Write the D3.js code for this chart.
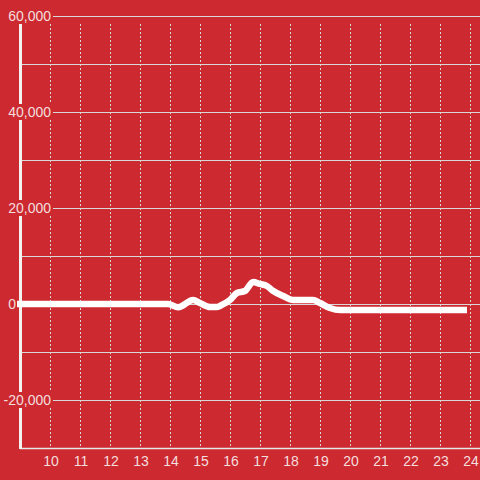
<!DOCTYPE html>
<html><head><meta charset="utf-8">
<script src="https://cdn.jsdelivr.net/npm/d3@7"></script>
<style>html,body{margin:0;padding:0;background:#cc2a30;}svg{display:block;}</style>
</head><body>
<svg id="chart" width="480" height="480"></svg>
<script>
const hours = [8.9, 13.93, 14.27, 14.77, 15.0, 15.33, 15.57, 15.73, 16.0, 16.23, 16.5, 16.77, 17.0, 17.23, 17.43, 17.77, 18.1, 18.77, 19.0, 19.33, 19.67, 23.9];
const values = [0, 0, -700, 830, 200, -625, -625, -200, 830, 2300, 2700, 4580, 4170, 3750, 2770, 1670, 830, 830, 200, -830, -1250, -1250];
const xTicks = [10, 11, 12, 13, 14, 15, 16, 17, 18, 19, 20, 21, 22, 23, 24];
const yTicks = [-30000, -20000, -10000, 0, 10000, 20000, 30000, 40000, 50000, 60000];
const yLabelTicks = [-20000, 0, 20000, 40000, 60000];

const svg = d3.select("#chart");
const bg = "#cc2a30", txt = "#f4dede", grid = "#d8d8d8";
svg.append("rect").attr("width", 480).attr("height", 480).attr("fill", bg);

const x = d3.scaleLinear().domain([9, 24]).range([20, 470]);
const y = d3.scaleLinear().domain([-30000, 60000]).range([448, 16]);
const fmt = d3.format(",");

// horizontal grid
svg.append("g").selectAll("line").data(yTicks.filter(d => d > -30000)).join("line")
  .attr("x1", 22).attr("x2", 480)
  .attr("y1", d => y(d) + 0.5).attr("y2", d => y(d) + 0.5)
  .attr("stroke", grid).attr("stroke-width", 1);

// vertical dotted grid
svg.append("g").selectAll("line").data(xTicks).join("line")
  .attr("x1", d => Math.round(x(d)) + 0.5).attr("x2", d => Math.round(x(d)) + 0.5)
  .attr("y1", 24).attr("y2", 448)
  .attr("stroke", grid).attr("stroke-width", 1).attr("stroke-dasharray", "2,2");

// x axis line
svg.append("line").attr("x1", 20).attr("x2", 480).attr("y1", 448.5).attr("y2", 448.5)
  .attr("stroke", "#e6e6e6").attr("stroke-width", 1.5);

// y axis bar
svg.append("rect").attr("x", 19).attr("y", 24).attr("width", 3).attr("height", 425).attr("fill", "#f2f2f2");

// y labels with background
const labelEnd = d => d === 0 ? 16 : 51;
const yl = svg.append("g").selectAll("g").data(yLabelTicks).join("g");
yl.append("rect").attr("x", d => d === 0 ? 6 : 0).attr("width", d => d === 0 ? 11 : 53)
  .attr("y", d => y(d) - 8).attr("height", 16).attr("fill", bg);
yl.append("text").attr("x", labelEnd).attr("y", d => y(d)).attr("dy", "0.35em")
  .attr("text-anchor", "end").attr("fill", txt)
  .style("font-family", "'Liberation Sans', Arial, sans-serif").style("font-size", "14px")
  .text(d => fmt(d).replace("−", "-"));

// x labels
svg.append("g").selectAll("text").data(xTicks).join("text")
  .attr("x", d => x(d) + 1).attr("y", 466).attr("text-anchor", "middle").attr("fill", txt)
  .style("font-family", "'Liberation Sans', Arial, sans-serif").style("font-size", "14px")
  .text(d => d);

// data line
const data = hours.map((h, i) => [h, values[i]]);
svg.append("path").datum(data)
  .attr("fill", "none").attr("stroke", "#ffffff").attr("stroke-width", 6.5)
  .attr("stroke-linejoin", "round").attr("stroke-linecap", "butt")
  .attr("d", d3.line().x(d => x(d[0])).y(d => y(d[1])).curve(d3.curveMonotoneX));
</script>
</body></html>
